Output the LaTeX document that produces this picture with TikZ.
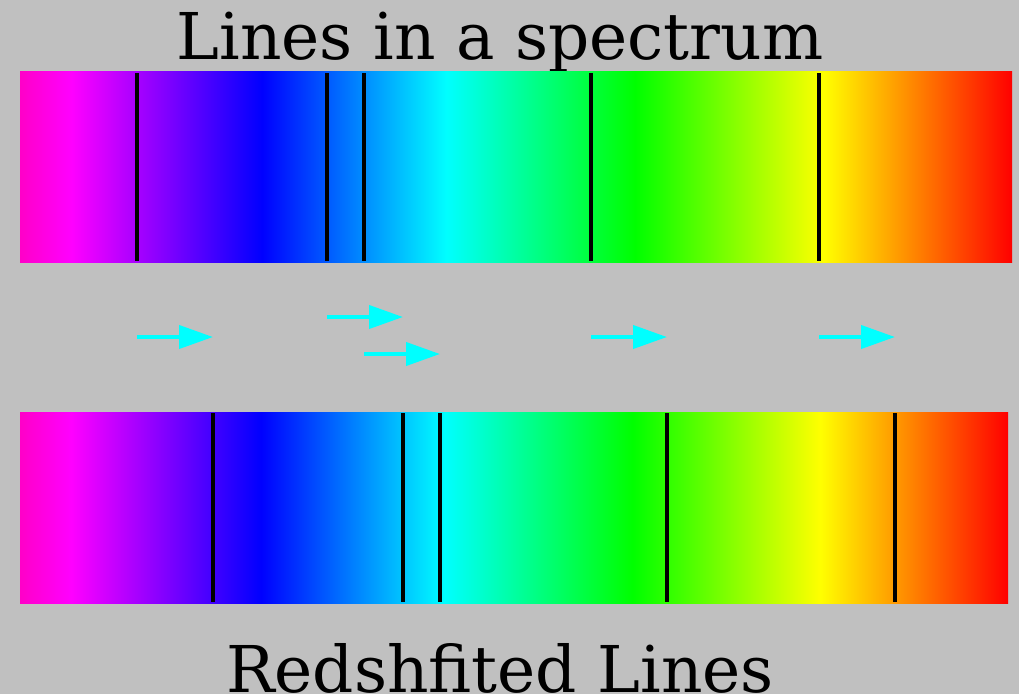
\documentclass[tikz,border=0pt]{standalone}
\usepackage{fontspec}
\setmainfont{DejaVu Serif}
\usetikzlibrary{arrows.meta}
\definecolor{bggray}{HTML}{C0C0C0}
\definecolor{specpink}{HTML}{FF00C8}
\definecolor{specmag}{HTML}{FF00FF}
\definecolor{specblue}{HTML}{0000FF}
\definecolor{speccyan}{HTML}{00FFFF}
\definecolor{specgreen}{HTML}{00FF00}
\definecolor{specyellow}{HTML}{FFFF00}
\definecolor{specred}{HTML}{FF0000}
\pgfdeclarehorizontalshading{spectrum}{100bp}{
  color(0bp)=(specpink); color(25bp)=(specpink); color(27.6bp)=(specmag);
  color(37.2bp)=(specblue); color(46.5bp)=(speccyan); color(56bp)=(specgreen);
  color(65.5bp)=(specyellow); color(75bp)=(specred); color(100bp)=(specred)}
\tikzset{
  band/.style={shading=spectrum},
  specline/.style={line width=4pt, color=black},
  shiftarrow/.style={-{Triangle[length=34pt,width=23pt]}, line width=4pt, color=speccyan},
  caption/.style={font=\fontsize{64.5}{70}\selectfont, anchor=base, inner sep=0pt},
}
\begin{document}
\begin{tikzpicture}[x=1pt, y=-1pt]
  \fill[bggray] (0,0) rectangle (1019,694);
  \node[caption] (title) at (500,59) {Lines in a spectrum};
  \shade[band] (20,71) rectangle (1012,262);
  \shade[band] (20,412) rectangle (1008,603);
  % lines in the rest frame, then the same lines shifted to the red
  \foreach \x/\ay [count=\i] in {137/337, 327/317, 364/354, 591/337, 819/337} {
    \draw[specline] (\x,73) -- (\x,261);
    \draw[specline] (\x+76,413) -- (\x+76,602);
    \coordinate (from\i) at (\x,\ay);
    \coordinate (to\i) at (\x+76,\ay);
    \draw[shiftarrow] (from\i) -- (to\i);
  }
  \node[caption] (subtitle) at (500,692) {Redshfited Lines};
\end{tikzpicture}
\end{document}
